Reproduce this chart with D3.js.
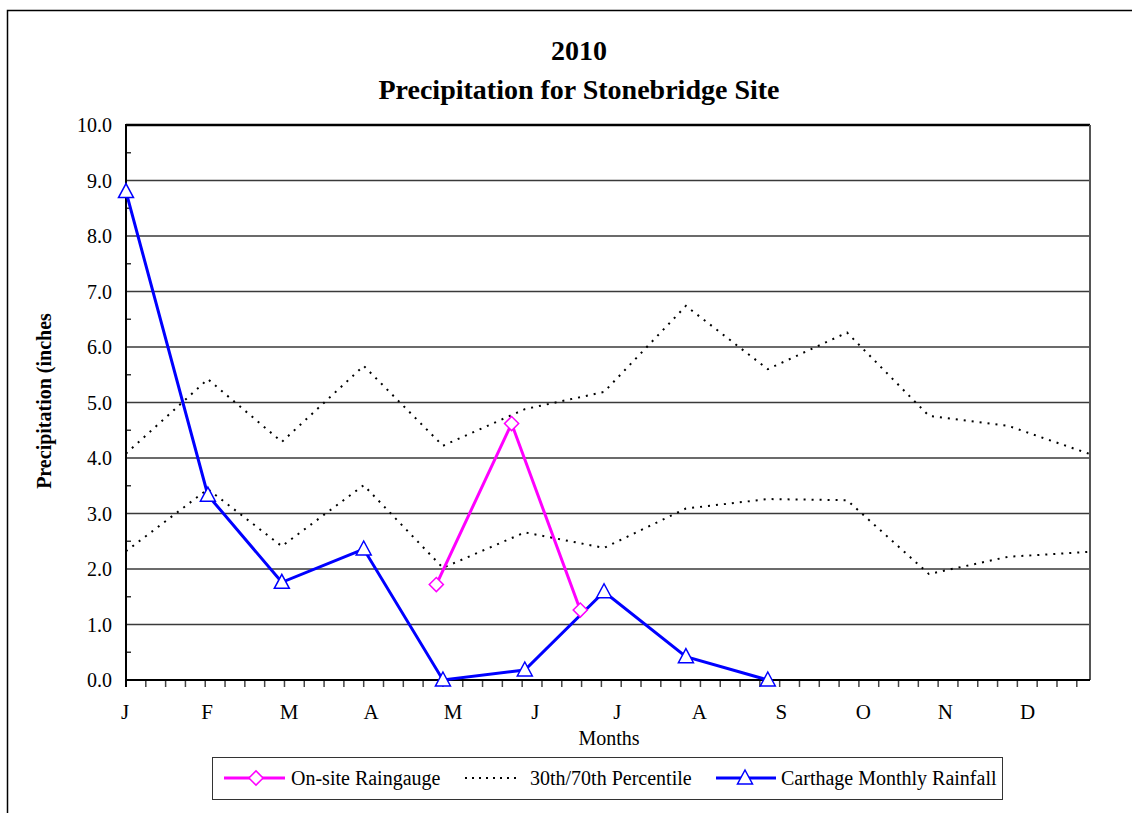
<!DOCTYPE html>
<html>
<head>
<meta charset="utf-8">
<title>2010 Precipitation for Stonebridge Site</title>
<script src="https://d3js.org/d3.v7.min.js"></script>
<style>
	body { margin: 0; background: #fff; }
	text { font-family: "Liberation Serif", "Times New Roman", serif; fill: #000; }
</style>
</head>
<body>
<div id="chart-area"></div>
<script>

// Month labels and the day of year each month starts on
var monthLabels = ["J", "F", "M", "A", "M", "J", "J", "A", "S", "O", "N", "D"];
var monthDays = [0, 31, 59, 90, 120, 151, 181, 212, 243, 273, 304, 334, 365];

// 70th and 30th percentile (inches), one value per month start + year end
var pct70 = [4.08, 5.42, 4.29, 5.66, 4.22, 4.88, 5.19, 6.74, 5.60, 6.26, 4.76, 4.58, 4.07];
var pct30 = [2.32, 3.44, 2.41, 3.51, 2.02, 2.66, 2.38, 3.09, 3.26, 3.24, 1.91, 2.22, 2.31];

// Carthage monthly rainfall, Jan - Sep
var carthage = [8.80, 3.33, 1.76, 2.36, 0.00, 0.18, 1.59, 0.42, 0.00];

// On-site raingauge readings (day of year, inches)
var onsiteDays = [117.5, 146, 172];
var onsite = [1.72, 4.62, 1.26];

var yTicks = [0, 1, 2, 3, 4, 5, 6, 7, 8, 9, 10];


/*
 * PrecipChart - Object constructor function
 * @param _parentElement 	-- the HTML element in which to draw the visualization
 */

PrecipChart = function (_parentElement) {
	this.parentElement = _parentElement;
	this.initVis();
}

PrecipChart.prototype.initVis = function () {
	var vis = this;

	vis.svg = d3.select("#" + vis.parentElement).append("svg")
		.attr("width", 1132)
		.attr("height", 813);

	// outer chart frame
	vis.svg.append("rect")
		.attr("x", 7.5).attr("y", 10.5)
		.attr("width", 1135).attr("height", 820)
		.attr("fill", "none")
		.attr("stroke", "#000")
		.attr("stroke-width", 1.5);

	// Scales (x is day of year)
	vis.x = d3.scaleLinear()
		.domain([0, 365])
		.range([126, 1090]);

	vis.y = d3.scaleLinear()
		.domain([0, 10])
		.range([680, 125]);

	vis.xLabel = d3.scalePoint()
		.domain(d3.range(monthLabels.length))
		.range([125, 1027.5]);

	vis.updateVis();
}

PrecipChart.prototype.updateVis = function () {
	var vis = this;

	// Gridlines
	vis.svg.append("g").selectAll("line")
		.data(yTicks.slice(1, -1))
		.enter().append("line")
		.attr("x1", vis.x(0)).attr("x2", vis.x(365))
		.attr("y1", function (d) { return vis.y(d); })
		.attr("y2", function (d) { return vis.y(d); })
		.attr("stroke", "#3a3a3a")
		.attr("stroke-width", 1.5);

	// plot frame: top black, right grey
	vis.svg.append("line")
		.attr("x1", vis.x(0)).attr("x2", vis.x(365))
		.attr("y1", vis.y(10)).attr("y2", vis.y(10))
		.attr("stroke", "#000").attr("stroke-width", 2.5);
	vis.svg.append("line")
		.attr("x1", vis.x(365)).attr("x2", vis.x(365))
		.attr("y1", vis.y(10)).attr("y2", vis.y(0))
		.attr("stroke", "#555").attr("stroke-width", 2);

	// y axis: minor ticks inside
	vis.svg.append("g").selectAll("line")
		.data(d3.range(0.5, 10, 1))
		.enter().append("line")
		.attr("x1", vis.x(0)).attr("x2", vis.x(0) + 5)
		.attr("y1", function (d) { return vis.y(d); })
		.attr("y2", function (d) { return vis.y(d); })
		.attr("stroke", "#333").attr("stroke-width", 1.5);

	vis.svg.append("g").selectAll("text")
		.data(yTicks)
		.enter().append("text")
		.attr("x", 112)
		.attr("y", function (d) { return vis.y(d) + 7; })
		.attr("text-anchor", "end")
		.style("font-size", "20px")
		.text(function (d) { return d3.format(".1f")(d); });

	// x axis ticks, every 7.5 days
	vis.svg.append("g").selectAll("line")
		.data(d3.range(0, 365, 7.5))
		.enter().append("line")
		.attr("x1", function (d) { return vis.x(d); })
		.attr("x2", function (d) { return vis.x(d); })
		.attr("y1", vis.y(0)).attr("y2", vis.y(0) + 7)
		.attr("stroke", "#444").attr("stroke-width", 1.5);

	vis.svg.append("line")
		.attr("x1", vis.x(0)).attr("x2", vis.x(365))
		.attr("y1", vis.y(0)).attr("y2", vis.y(0))
		.attr("stroke", "#000").attr("stroke-width", 2);
	vis.svg.append("line")
		.attr("x1", vis.x(0)).attr("x2", vis.x(0))
		.attr("y1", vis.y(10) - 1).attr("y2", vis.y(0) + 7)
		.attr("stroke", "#000").attr("stroke-width", 2);

	vis.svg.append("g").selectAll("text")
		.data(monthLabels)
		.enter().append("text")
		.attr("x", function (d, i) { return vis.xLabel(i); })
		.attr("y", 719)
		.attr("text-anchor", "middle")
		.style("font-size", "21px")
		.text(function (d) { return d; });

	// titles
	vis.svg.append("text")
		.attr("x", 579).attr("y", 60)
		.attr("text-anchor", "middle")
		.style("font-size", "28px").style("font-weight", "bold")
		.text("2010");
	vis.svg.append("text")
		.attr("x", 579).attr("y", 99)
		.attr("text-anchor", "middle")
		.style("font-size", "28px").style("font-weight", "bold")
		.text("Precipitation for Stonebridge Site");
	vis.svg.append("text")
		.attr("x", 609).attr("y", 745)
		.attr("text-anchor", "middle")
		.style("font-size", "20px")
		.text("Months");
	vis.svg.append("text")
		.attr("transform", "translate(51,401) rotate(-90)")
		.attr("text-anchor", "middle")
		.style("font-size", "20px").style("font-weight", "bold")
		.text("Precipitation (inches");

	// Lines
	var line = d3.line()
		.x(function (d) { return vis.x(d[0]); })
		.y(function (d) { return vis.y(d[1]); });

	[pct70, pct30].forEach(function (s) {
		vis.svg.append("path")
			.datum(s.map(function (v, i) { return [monthDays[i], v]; }))
			.attr("d", line)
			.attr("fill", "none")
			.attr("stroke", "#000")
			.attr("stroke-width", 2)
			.attr("stroke-dasharray", "2,6");
	});

	var onsitePts = onsite.map(function (v, i) { return [onsiteDays[i], v]; });
	var carthagePts = carthage.map(function (v, i) { return [monthDays[i], v]; });

	vis.svg.append("path")
		.datum(onsitePts)
		.attr("d", line)
		.attr("fill", "none")
		.attr("stroke", "#ff00ff")
		.attr("stroke-width", 3);

	vis.svg.append("path")
		.datum(carthagePts)
		.attr("d", line)
		.attr("fill", "none")
		.attr("stroke", "#0000ff")
		.attr("stroke-width", 3);

	var diamond = d3.symbol().type(d3.symbolSquare).size(100);
	var triangle = "M0,-8L7.5,6L-7.5,6Z";

	vis.svg.append("g").selectAll("path")
		.data(onsitePts)
		.enter().append("path")
		.attr("d", diamond)
		.attr("transform", function (d) { return "translate(" + vis.x(d[0]) + "," + vis.y(d[1]) + ") rotate(45)"; })
		.attr("fill", "#fff").attr("stroke", "#ff00ff").attr("stroke-width", 1.5);

	vis.svg.append("g").selectAll("path")
		.data(carthagePts)
		.enter().append("path")
		.attr("d", triangle)
		.attr("transform", function (d) { return "translate(" + vis.x(d[0]) + "," + vis.y(d[1]) + ")"; })
		.attr("fill", "#fff").attr("stroke", "#0000ff").attr("stroke-width", 1.5);

	// Legend
	var lg = vis.svg.append("g");
	lg.append("rect")
		.attr("x", 212.5).attr("y", 757.5)
		.attr("width", 790).attr("height", 42)
		.attr("fill", "#fff").attr("stroke", "#333").attr("stroke-width", 1);

	var ly = 778;
	lg.append("line").attr("x1", 224).attr("x2", 285).attr("y1", ly).attr("y2", ly)
		.attr("stroke", "#ff00ff").attr("stroke-width", 3);
	lg.append("path").attr("d", diamond)
		.attr("transform", "translate(256," + ly + ") rotate(45)")
		.attr("fill", "#fff").attr("stroke", "#ff00ff").attr("stroke-width", 1.5);
	lg.append("text").attr("x", 291).attr("y", ly + 7).style("font-size", "20px").text("On-site Raingauge");

	lg.append("line").attr("x1", 465).attr("x2", 520).attr("y1", ly).attr("y2", ly)
		.attr("stroke", "#000").attr("stroke-width", 2).attr("stroke-dasharray", "2,5");
	lg.append("text").attr("x", 530).attr("y", ly + 7).style("font-size", "20px").text("30th/70th Percentile");

	lg.append("line").attr("x1", 716).attr("x2", 776).attr("y1", ly).attr("y2", ly)
		.attr("stroke", "#0000ff").attr("stroke-width", 3);
	lg.append("path").attr("d", triangle)
		.attr("transform", "translate(745," + ly + ")")
		.attr("fill", "#fff").attr("stroke", "#0000ff").attr("stroke-width", 1.5);
	lg.append("text").attr("x", 781).attr("y", ly + 7).style("font-size", "20px").text("Carthage Monthly Rainfall");
}

var chart = new PrecipChart("chart-area");

</script>
</body>
</html>
